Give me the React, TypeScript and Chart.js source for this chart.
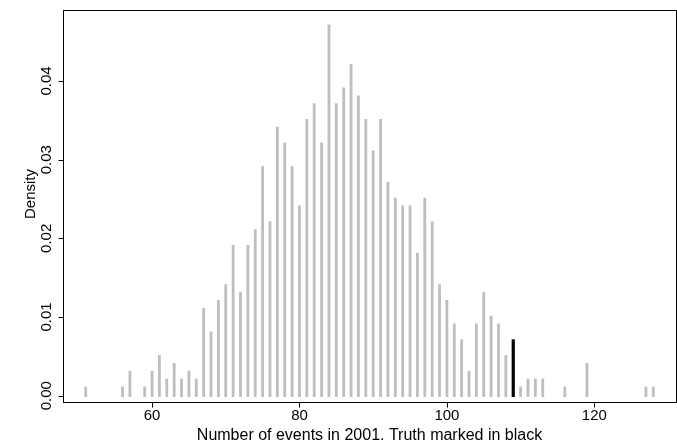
import React, { useEffect, useRef } from "react";
import { Chart, registerables } from "chart.js";

Chart.register(...registerables);

// Simulated counts (x) and their densities, gray spikes
const eventCounts = [
  51, 56, 57, 59, 60, 61, 62, 63, 64, 65, 66, 67, 68, 69, 70, 71, 72, 73, 74, 75,
  76, 77, 78, 79, 80, 81, 82, 83, 84, 85, 86, 87, 88, 89, 90, 91, 92, 93, 94, 95,
  96, 97, 98, 99, 100, 101, 102, 103, 104, 105, 106, 107, 108, 110, 111, 112, 113,
  116, 119, 127, 128,
];
const densities = [
  0.001, 0.001, 0.003, 0.001, 0.003, 0.005, 0.002, 0.004, 0.002, 0.003, 0.002, 0.011,
  0.008, 0.012, 0.014, 0.019, 0.013, 0.019, 0.021, 0.029, 0.022, 0.034, 0.032, 0.029,
  0.024, 0.035, 0.037, 0.032, 0.047, 0.037, 0.039, 0.042, 0.038, 0.035, 0.031, 0.035,
  0.027, 0.025, 0.024, 0.024, 0.018, 0.025, 0.022, 0.014, 0.012, 0.009, 0.007, 0.003,
  0.009, 0.013, 0.010, 0.009, 0.005, 0.001, 0.002, 0.002, 0.002, 0.001, 0.004, 0.001,
  0.001,
];
// Truth (black spike)
const truthCounts = [109];
const truthDensities = [0.007];

const xTicks = [60, 80, 100, 120];
const xTickLabels = ["60", "80", "100", "120"];
const yTicks = [0, 0.01, 0.02, 0.03, 0.04];
const yTickLabels = ["0.00", "0.01", "0.02", "0.03", "0.04"];
const xTitle = "Number of events in 2001. Truth marked in black";
const yTitle = "Density";

const FONT = '"Liberation Sans", Arial, Helvetica, sans-serif';

const axesPlugin = {
  id: "rAxes",
  afterDraw(chart: any) {
    const { ctx, chartArea, scales } = chart;
    const xs = scales.x;
    const ys = scales.y;
    const { left, right, top, bottom } = chartArea;
    ctx.save();
    ctx.strokeStyle = "#000";
    ctx.lineWidth = 1;
    // box
    ctx.strokeRect(left + 0.5, top - 0.5, right - left, bottom - top + 1);
    // x ticks
    ctx.beginPath();
    xTicks.forEach((v) => {
      const px = Math.round(xs.getPixelForValue(v)) + 0.5;
      ctx.moveTo(px, bottom + 0.5);
      ctx.lineTo(px, bottom + 5.5);
    });
    // y ticks
    yTicks.forEach((v) => {
      const py = Math.round(ys.getPixelForValue(v)) + 0.5;
      ctx.moveTo(left + 0.5, py);
      ctx.lineTo(left - 4.5, py);
    });
    ctx.stroke();

    ctx.fillStyle = "#000";
    ctx.font = `15px ${FONT}`;
    ctx.textAlign = "center";
    ctx.textBaseline = "middle";
    xTicks.forEach((v, i) => {
      ctx.fillText(xTickLabels[i], xs.getPixelForValue(v), 416);
    });
    yTicks.forEach((v, i) => {
      ctx.save();
      ctx.translate(46.5, ys.getPixelForValue(v));
      ctx.rotate(-Math.PI / 2);
      ctx.fillText(yTickLabels[i], 0, 0);
      ctx.restore();
    });
    ctx.font = `16px ${FONT}`;
    ctx.fillText(xTitle, (left + right) / 2, 436);
    ctx.font = `15px ${FONT}`;
    ctx.save();
    ctx.translate(31, 194);
    ctx.rotate(-Math.PI / 2);
    ctx.fillText(yTitle, 0, 0);
    ctx.restore();
    ctx.restore();
  },
};

export default function App() {
  const canvasRef = useRef<HTMLCanvasElement | null>(null);

  useEffect(() => {
    document.body.style.margin = "0";
    const canvas = canvasRef.current;
    if (!canvas) return;
    const chart = new Chart(canvas, {
      type: "bar",
      data: {
        datasets: [
          {
            data: eventCounts.map((x, i) => ({ x, y: densities[i] })),
            backgroundColor: "#BEBEBE",
            barThickness: 0.2,
            inflateAmount: 1.3,
            borderWidth: 0,
            grouped: false,
          } as any,
          {
            data: truthCounts.map((x, i) => ({ x, y: truthDensities[i] })),
            backgroundColor: "#000000",
            barThickness: 0.6,
            inflateAmount: 1.3,
            borderWidth: 0,
            grouped: false,
          } as any,
        ],
      },
      options: {
        responsive: false,
        animation: false,
        events: [],
        layout: { padding: { left: 63, right: 1, top: 11, bottom: 44 } },
        plugins: { legend: { display: false }, tooltip: { enabled: false } },
        scales: {
          x: {
            type: "linear",
            display: false,
            offset: false,
            min: 47.92,
            max: 131.08,
          },
          y: {
            type: "linear",
            display: false,
            min: -0.0008,
            max: 0.04889,
          },
        },
      },
      plugins: [axesPlugin],
    });
    return () => chart.destroy();
  }, []);

  return (
    <canvas
      ref={canvasRef}
      width={677}
      height={446}
      style={{ display: "block", width: 677, height: 446 }}
    />
  );
}
